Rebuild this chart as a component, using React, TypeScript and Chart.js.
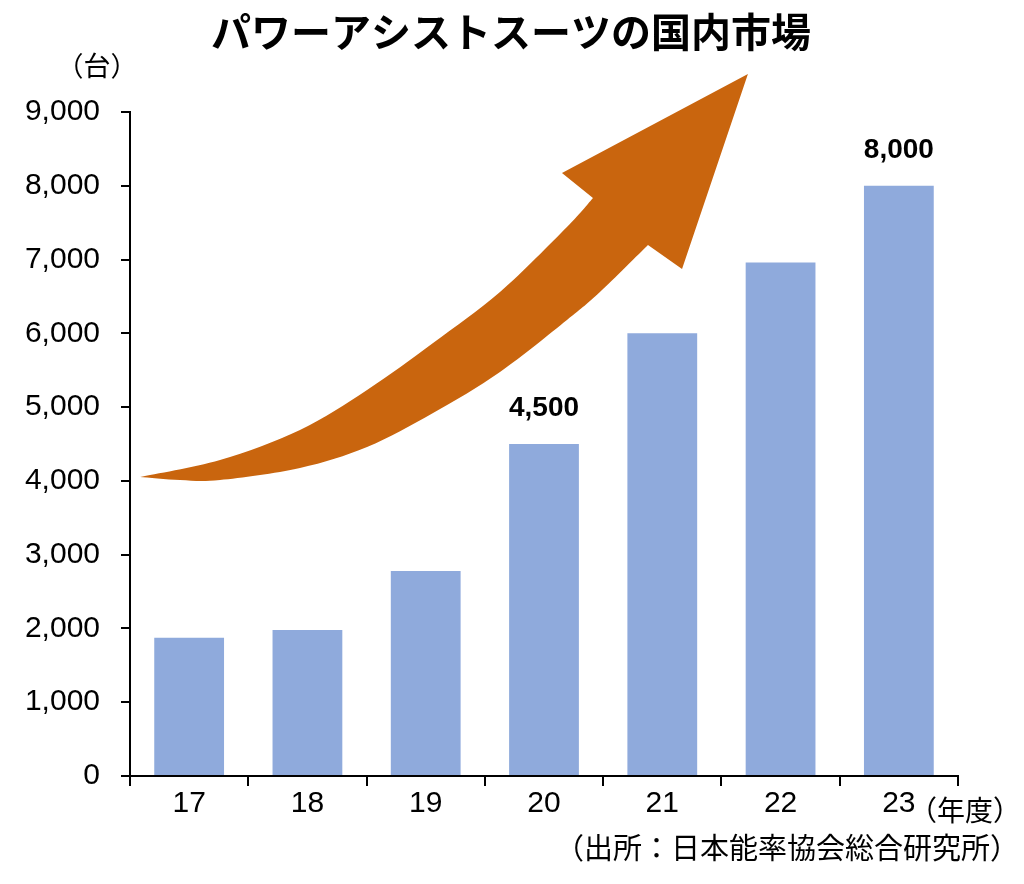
import React, { useEffect, useRef } from "react";
import { Chart, registerables } from "chart.js";

Chart.register(...registerables);

const TITLE = "パワーアシストスーツの国内市場";
const Y_UNIT = "（台）";
const X_UNIT = "（年度）";
const SOURCE = "（出所：日本能率協会総合研究所）";

const YEARS = ["17", "18", "19", "20", "21", "22", "23"];
const UNITS = [1875, 1980, 2780, 4500, 6000, 6960, 8000];
const LABELED_INDEX = [3, 6];

const Y_MIN = 0;
const Y_MAX = 9000;
const Y_STEP = 1000;

// Decorative arrow outline in (category index, value) space
const ARROW_UPPER: [number, number][] = [
  [-0.415, 4053],
  [0.261, 4283],
  [0.937, 4690],
  [1.504, 5232],
  [2.062, 5869],
  [2.628, 6560],
  [3.194, 7441],
  [3.414, 7834],
];
const ARROW_HEAD: [number, number][] = [
  [3.152, 8173],
  [4.724, 9515],
  [4.167, 6872],
  [3.879, 7197],
];
const ARROW_LOWER: [number, number][] = [
  [3.879, 7197],
  [3.473, 6560],
  [3.194, 6181],
  [2.628, 5476],
  [2.062, 4920],
  [1.504, 4459],
  [0.937, 4175],
  [0.261, 4012],
  [-0.077, 4012],
  [-0.415, 4053],
];

const BAR_COLOR = "#8FAADC";
const ARROW_COLOR = "#C9650E";
const NUM_FONT = "'Liberation Sans', Arial, sans-serif";
const JP_FONT = "'Noto Sans CJK JP', 'Noto Sans', sans-serif";

function curveThrough(ctx: CanvasRenderingContext2D, pts: { x: number; y: number }[], moveFirst: boolean) {
  if (moveFirst) ctx.moveTo(pts[0].x, pts[0].y);
  else ctx.lineTo(pts[0].x, pts[0].y);
  for (let i = 0; i < pts.length - 1; i++) {
    const p0 = pts[i - 1] || pts[i];
    const p1 = pts[i];
    const p2 = pts[i + 1];
    const p3 = pts[i + 2] || p2;
    const c1x = p1.x + (p2.x - p0.x) / 6;
    const c1y = p1.y + (p2.y - p0.y) / 6;
    const c2x = p2.x - (p3.x - p1.x) / 6;
    const c2y = p2.y - (p3.y - p1.y) / 6;
    ctx.bezierCurveTo(c1x, c1y, c2x, c2y, p2.x, p2.y);
  }
}

const decorPlugin = {
  id: "decor",
  beforeDatasetsDraw(chart: any) {
    const { ctx, scales } = chart;
    const xs = scales.x;
    const ys = scales.y;
    const toPx = (p: [number, number]) => ({
      x: xs.getPixelForValue(0) + p[0] * (xs.getPixelForValue(1) - xs.getPixelForValue(0)),
      y: ys.getPixelForValue(p[1]),
    });
    ctx.save();
    ctx.fillStyle = ARROW_COLOR;
    ctx.beginPath();
    curveThrough(ctx, ARROW_UPPER.map(toPx), true);
    ARROW_HEAD.map(toPx).forEach((p) => ctx.lineTo(p.x, p.y));
    curveThrough(ctx, ARROW_LOWER.map(toPx), false);
    ctx.closePath();
    ctx.fill();
    ctx.restore();
  },
  afterDraw(chart: any) {
    const { ctx, chartArea } = chart;
    const meta = chart.getDatasetMeta(0);
    ctx.save();
    ctx.fillStyle = "#000";
    ctx.font = `bold 40px ${JP_FONT}`;
    ctx.textAlign = "center";
    ctx.textBaseline = "middle";
    ctx.fillText(TITLE, 511, 32);
    ctx.font = `27px ${JP_FONT}`;
    ctx.fillText(Y_UNIT, 97, 66);
    ctx.font = `28px ${JP_FONT}`;
    ctx.fillText(X_UNIT, chartArea.right + 7, 810);
    ctx.font = `29px ${JP_FONT}`;
    ctx.fillText(SOURCE, 787, 848);
    ctx.font = `bold 28px ${NUM_FONT}`;
    ctx.textBaseline = "alphabetic";
    LABELED_INDEX.forEach((i) => {
      const el = meta.data[i];
      ctx.fillText(UNITS[i].toLocaleString("en-US"), el.x, el.y - 28);
    });
    ctx.restore();
  },
};

export default function App() {
  const ref = useRef<HTMLCanvasElement>(null);
  useEffect(() => {
    document.body.style.margin = "0";
    const chart = new Chart(ref.current!, {
      type: "bar",
      data: {
        labels: YEARS,
        datasets: [
          {
            data: UNITS,
            backgroundColor: BAR_COLOR,
            borderWidth: 0,
            categoryPercentage: 1,
            barPercentage: 0.59,
          },
        ],
      },
      options: {
        animation: false,
        responsive: false,
        layout: { padding: { top: 112, right: 66, bottom: 0, left: 0 } },
        plugins: { legend: { display: false }, title: { display: false }, tooltip: { enabled: false } },
        scales: {
          x: {
            grid: { display: true, drawOnChartArea: false, drawTicks: true, tickLength: 10, color: "#000", lineWidth: 2, offset: true },
            border: { display: true, color: "#000", width: 2 },
            ticks: { color: "#000", font: { family: NUM_FONT, size: 30 }, padding: 0 },
            afterFit: (s: any) => {
              s.height = 108;
            },
          },
          y: {
            min: Y_MIN,
            max: Y_MAX,
            grid: { display: true, drawOnChartArea: false, drawTicks: true, tickLength: 9, color: "#000", lineWidth: 2 },
            border: { display: true, color: "#000", width: 2 },
            ticks: {
              stepSize: Y_STEP,
              color: "#000",
              font: { family: NUM_FONT, size: 30 },
              padding: 21,
              callback: (v: any) => Number(v).toLocaleString("en-US"),
            },
            afterFit: (s: any) => {
              s.width = 130;
            },
          },
        },
      },
      plugins: [decorPlugin],
    });
    return () => chart.destroy();
  }, []);
  return (
    <div style={{ width: 1024, height: 884 }}>
      <canvas ref={ref} width={1024} height={884} style={{ display: "block" }} />
    </div>
  );
}
